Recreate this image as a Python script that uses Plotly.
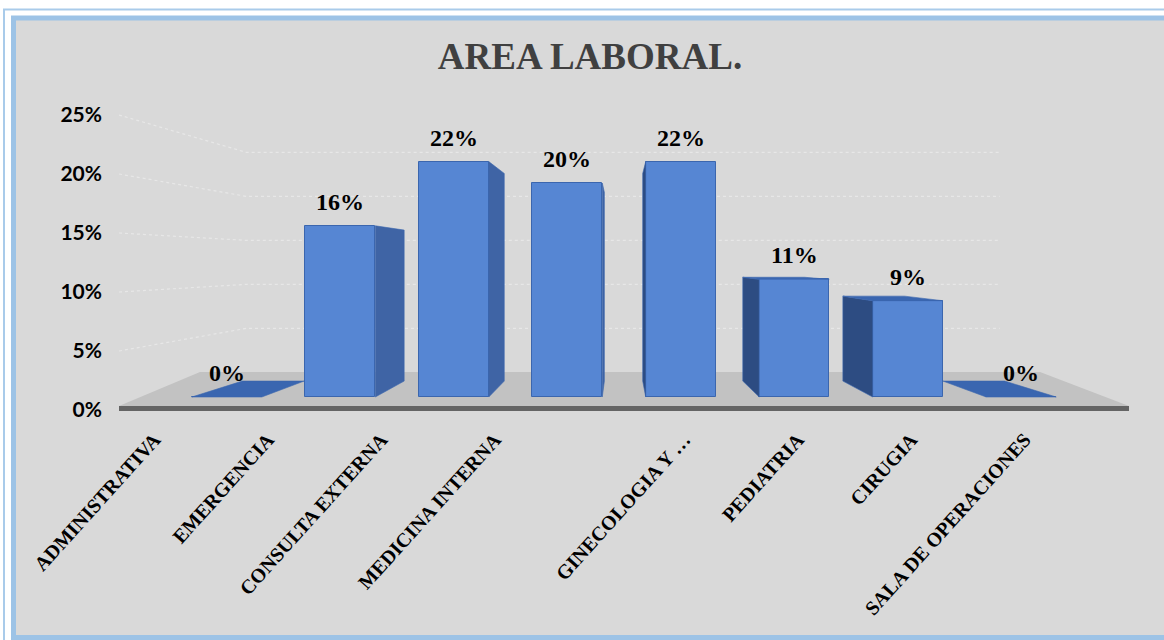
import plotly.graph_objects as go

# ---- data -------------------------------------------------------------
categories = ["ADMINISTRATIVA", "EMERGENCIA", "CONSULTA EXTERNA", "MEDICINA INTERNA",
              "GINECOLOGIA Y …", "PEDIATRIA", "CIRUGIA", "SALA DE OPERACIONES"]
percent = [0, 16, 22, 20, 22, 11, 9, 0]
y_ticks = [0, 5, 10, 15, 20, 25]
title_text = "AREA LABORAL."

# ---- geometry ---------------------------------------------------------
W, H = 1164, 640
PL, PR, PT, PB = 119, 1129, 95, 430          # plot area edges in px
X_RANGE = [-0.95, 7.95]
PX_PER_X = (PR - PL) / (X_RANGE[1] - X_RANGE[0])


def x_of(px):
    return X_RANGE[0] + (px - PL) / PX_PER_X


# value axis of the bars (y2): 0 % rests on the floor
BAR_BASE_PX, BAR_PX_PER = 397, 10.7
y2_lo = -(PB - BAR_BASE_PX) / BAR_PX_PER
Y2_RANGE = [y2_lo, y2_lo + (PB - PT) / BAR_PX_PER]


def y2_of(py):
    return (BAR_BASE_PX - py) / BAR_PX_PER


# labelled axis (y): front edge of the 3-D box
TICK_BASE_PX, TICK_PX_PER = 410, 11.8
y_lo = -(PB - TICK_BASE_PX) / TICK_PX_PER
Y_RANGE = [y_lo, y_lo + (PB - PT) / TICK_PX_PER]


def y_of(py):
    return (TICK_BASE_PX - py) / TICK_PX_PER


def xp(px):
    return (px - PL) / (PR - PL)


def yp(py):
    return (PB - py) / (PB - PT)


# perspective: everything recedes toward a vanishing point
VX = x_of(620)
VY2 = y2_of(262)
VY = y_of(262)
DEPTH = 0.882      # back face of a bar relative to its front face
WALL = 0.746       # back wall relative to the labelled front edge
BAR_W = 0.617

# category labels hang off the front edge, pushed outward on each half
LABEL_OFF_LEFT = -0.64
LABEL_OFF_RIGHT = 0.03
label_pos = [i + (LABEL_OFF_LEFT if i < VX else LABEL_OFF_RIGHT)
             for i in range(len(categories))]

BLUE_FRONT = "#5686D3"
BLUE_EDGE = "#3B66AE"
BLUE_SIDE_R = "#3F64A5"
BLUE_SIDE_L = "#2D4C82"
BLUE_TOP = "#3A66B0"


def recede(x, y, vy, s):
    return VX + s * (x - VX), vy + s * (y - vy)


def path(pts, close=True):
    d = "M " + " L ".join(f"{x:.4f},{y:.4f}" for x, y in pts)
    return d + (" Z" if close else "")


shapes = []

# outer frame and grey chart area
shapes.append(dict(type="rect", xref="paper", yref="paper",
                   x0=xp(4), x1=xp(1190), y0=yp(9.5), y1=yp(700),
                   line=dict(color="#A9CBEA", width=2), fillcolor="white", layer="below"))
shapes.append(dict(type="rect", xref="paper", yref="paper",
                   x0=xp(13.5), x1=xp(1190), y0=yp(18), y1=yp(637.5),
                   line=dict(color="#9DC3E6", width=5), fillcolor="#D9D9D9", layer="below"))

# gridlines: along the left side wall, then across the back wall
for v in y_ticks[1:]:
    bl = recede(X_RANGE[0], v, VY, WALL)
    br = recede(X_RANGE[1], v, VY, WALL)
    shapes.append(dict(type="path", xref="x", yref="y", layer="below",
                       path=path([(X_RANGE[0], v), bl, br], close=False),
                       line=dict(color="#E7E7E7", width=1.2, dash="dot")))

# floor
floor_front = y2_of(406)
floor_back = y2_of(372)
shapes.append(dict(type="path", xref="x", yref="y2", layer="below",
                   path=path([(X_RANGE[0], floor_front), (X_RANGE[1], floor_front),
                              (x_of(1040), floor_back), (x_of(200), floor_back)]),
                   fillcolor="#C2C2C2", line=dict(width=0)))
shapes.append(dict(type="rect", xref="x", yref="y2", layer="below",
                   x0=X_RANGE[0], x1=X_RANGE[1], y0=y2_of(411), y1=floor_front,
                   fillcolor="#646464", line=dict(width=0)))

# side and top faces of each bar
for i, v in enumerate(percent):
    xl, xr = i - BAR_W / 2, i + BAR_W / 2
    if v > 0:
        xs = xr if i < VX else xl
        b0 = recede(xs, 0, VY2, DEPTH)
        b1 = recede(xs, v, VY2, DEPTH)
        shapes.append(dict(type="path", xref="x", yref="y2", layer="above",
                           path=path([(xs, 0), (xs, v), b1, b0]),
                           fillcolor=BLUE_SIDE_R if i < VX else BLUE_SIDE_L,
                           line=dict(color=BLUE_EDGE, width=0.6)))
    if v < VY2:
        tl = recede(xl, v, VY2, DEPTH)
        tr = recede(xr, v, VY2, DEPTH)
        shapes.append(dict(type="path", xref="x", yref="y2", layer="above",
                           path=path([(xl, v), (xr, v), tr, tl]),
                           fillcolor=BLUE_TOP, line=dict(color=BLUE_EDGE, width=0.6)))

# value labels above the bars
annotations = [dict(x=i, y=v, xref="x", yref="y2", text=f"{v}%", showarrow=False,
                    yanchor="bottom", yshift=9,
                    font=dict(family="Liberation Serif", size=24, color="black", weight="bold"))
               for i, v in enumerate(percent)]

fig = go.Figure()
fig.add_trace(go.Scatter(x=[None], y=[None], showlegend=False, hoverinfo="skip"))
fig.add_trace(go.Bar(x=list(range(len(categories))), y=percent, yaxis="y2", width=BAR_W,
                     marker=dict(color=BLUE_FRONT, line=dict(color=BLUE_EDGE, width=1)),
                     hovertext=categories, showlegend=False))

fig.update_layout(
    width=W, height=H,
    margin=dict(l=PL, r=W - PR, t=PT, b=H - PB, pad=0),
    paper_bgcolor="white", plot_bgcolor="rgba(0,0,0,0)",
    showlegend=False, bargap=0,
    title=dict(text=title_text, x=590 / W, xanchor="center", y=1 - 56 / H, yanchor="middle",
               font=dict(family="Liberation Serif", size=37, color="#404040", weight="bold")),
    xaxis=dict(range=X_RANGE, tickmode="array", tickvals=label_pos,
               ticktext=categories, tickangle=-48, ticks="", showgrid=False, zeroline=False,
               showline=False, ticklabelstandoff=-7,
               tickfont=dict(family="Liberation Serif", size=20, color="black", weight="bold")),
    yaxis=dict(range=Y_RANGE, tickmode="array", tickvals=y_ticks,
               ticktext=[f"{v}%" for v in y_ticks], ticks="", showgrid=False, zeroline=False,
               showline=False, ticklabelstandoff=16,
               tickfont=dict(family="Lato", size=21, color="black", weight="bold")),
    yaxis2=dict(range=Y2_RANGE, overlaying="y", visible=False),
    shapes=shapes,
    annotations=annotations,
)

fig.write_html("out.html")
